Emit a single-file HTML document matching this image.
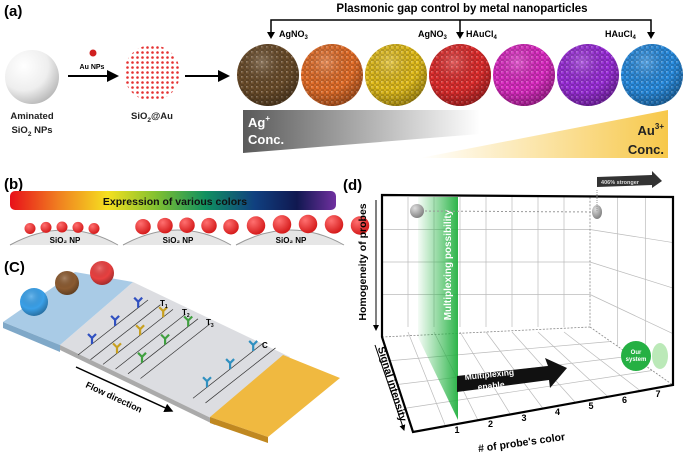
<!DOCTYPE html>
<html><head><meta charset="utf-8"><style>
html,body{margin:0;padding:0;background:#fff;}
svg{display:block;font-family:"Liberation Sans",Arial,sans-serif;}
.b{font-weight:bold;}
</style></head><body>
<svg id="fig" width="685" height="465" viewBox="0 0 685 465" xmlns="http://www.w3.org/2000/svg">
<defs>
<radialGradient id="white" cx="0.35" cy="0.3" r="0.75"><stop offset="0" stop-color="#fff"/><stop offset="0.6" stop-color="#eee"/><stop offset="1" stop-color="#b8b8b8"/></radialGradient>
<radialGradient id="shade" cx="0.4" cy="0.3" r="0.8"><stop offset="0" stop-color="#fff" stop-opacity="0.25"/><stop offset="0.55" stop-color="#000" stop-opacity="0"/><stop offset="1" stop-color="#000" stop-opacity="0.4"/></radialGradient>
<pattern id="bumps" width="5" height="5" patternUnits="userSpaceOnUse"><circle cx="2.5" cy="2.5" r="2.2" fill="none" stroke="#000" stroke-opacity="0.22" stroke-width="0.8"/><circle cx="1.8" cy="1.8" r="0.8" fill="#fff" fill-opacity="0.35"/></pattern>
<pattern id="reddots" width="5" height="5" patternUnits="userSpaceOnUse"><circle cx="2.5" cy="2.5" r="1.3" fill="#e53030"/></pattern>
<linearGradient id="gray" x1="0" x2="1"><stop offset="0" stop-color="#5a5a5a"/><stop offset="1" stop-color="#fff"/></linearGradient>
<linearGradient id="gold" x1="0" x2="1"><stop offset="0" stop-color="#fff"/><stop offset="1" stop-color="#f7c84a"/></linearGradient>
<linearGradient id="rainbow" x1="0" x2="1"><stop offset="0" stop-color="#e8101a"/><stop offset="0.15" stop-color="#f08020"/><stop offset="0.3" stop-color="#f5e020"/><stop offset="0.45" stop-color="#80c030"/><stop offset="0.6" stop-color="#109060"/><stop offset="0.75" stop-color="#104080"/><stop offset="0.88" stop-color="#101850"/><stop offset="1" stop-color="#7030a0"/></linearGradient>
<linearGradient id="greenplane" x1="0" x2="1"><stop offset="0" stop-color="#2db84a" stop-opacity="0.05"/><stop offset="1" stop-color="#22b040" stop-opacity="0.95"/></linearGradient>
<radialGradient id="redball" cx="0.35" cy="0.3" r="0.8"><stop offset="0" stop-color="#ff7070"/><stop offset="1" stop-color="#d01010"/></radialGradient>
<radialGradient id="grayball" cx="0.35" cy="0.3" r="0.8"><stop offset="0" stop-color="#ddd"/><stop offset="1" stop-color="#777"/></radialGradient>
<marker id="ah" markerWidth="6" markerHeight="6" refX="5" refY="3" orient="auto"><path d="M0,0 L6,3 L0,6 z" fill="#000"/></marker>
</defs>

<!-- Panel a -->
<g>
<text x="4" y="16" class="b" font-size="15">(a)</text>
<circle cx="32" cy="77" r="27" fill="url(#white)"/>
<text x="32" y="119" text-anchor="middle" class="b" font-size="9.5" fill="#222">Aminated</text>
<text x="32" y="133" text-anchor="middle" class="b" font-size="9.5" fill="#222">SiO<tspan font-size="6.5" dy="3">2</tspan><tspan dy="-3"> NPs</tspan></text>
<circle cx="93" cy="53" r="3.5" fill="#d02020"/>
<text x="92" y="69" text-anchor="middle" class="b" font-size="7">Au NPs</text>
<line x1="68" y1="76" x2="117" y2="76" stroke="#000" stroke-width="2" marker-end="url(#ah)"/>
<circle cx="152" cy="73" r="28" fill="#fff"/>
<circle cx="152" cy="73" r="28" fill="url(#reddots)"/>
<text x="152" y="119" text-anchor="middle" class="b" font-size="9.5" fill="#222">SiO<tspan font-size="6.5" dy="3">2</tspan><tspan dy="-3">@Au</tspan></text>
<line x1="185" y1="76" x2="228" y2="76" stroke="#000" stroke-width="2" marker-end="url(#ah)"/>
<g id="spheres"></g>
<text x="462" y="12" text-anchor="middle" class="b" font-size="11.5">Plasmonic gap control by metal nanoparticles</text>
<path d="M271,33 V20 H651 V33 M460,20 V33" fill="none" stroke="#000" stroke-width="1.5"/>
<path d="M267,32 l4,7 l4,-7z M456,32 l4,7 l4,-7z M647,32 l4,7 l4,-7z" fill="#000"/>
<text x="279" y="37" class="b" font-size="9">AgNO<tspan font-size="6" dy="2">3</tspan></text>
<text x="418" y="37" class="b" font-size="9">AgNO<tspan font-size="6" dy="2">3</tspan></text>
<text x="466" y="37" class="b" font-size="9">HAuCl<tspan font-size="6" dy="2">4</tspan></text>
<text x="605" y="37" class="b" font-size="9">HAuCl<tspan font-size="6" dy="2">4</tspan></text>
<polygon points="243,110 480,110 480,134 243,153" fill="url(#gray)"/>
<polygon points="420,158 668,110 668,158" fill="url(#gold)"/>
<text x="248" y="127" class="b" font-size="13" fill="#fff">Ag<tspan font-size="8" dy="-6">+</tspan></text>
<text x="248" y="144" class="b" font-size="13" fill="#fff">Conc.</text>
<text x="664" y="135" text-anchor="end" class="b" font-size="13" fill="#222">Au<tspan font-size="8" dy="-6">3+</tspan></text>
<text x="664" y="154" text-anchor="end" class="b" font-size="13" fill="#222">Conc.</text>
</g>

<!-- Panel b -->
<g>
<text x="4" y="189" class="b" font-size="15">(b)</text>
<rect x="10" y="191" width="326" height="19" rx="5" fill="url(#rainbow)"/>
<text x="175" y="205" text-anchor="middle" class="b" font-size="10.5" fill="#111">Expression of various colors</text>
<g id="bgroups"></g>
</g>

<!-- Panel c -->
<g>
<text x="4" y="272" class="b" font-size="15">(C)</text>
<polygon points="60,345 133,282 290,357 215,420" fill="#dcdde1"/>
<polygon points="60,345 215,420 215,425 60,350" fill="#aaa"/>
<polygon points="3,322 75,272 133,282 60,345" fill="#a9cbe6"/>
<polygon points="3,322 60,345 60,352 3,328" fill="#7fa8c8"/>
<polygon points="210,417 283,355 340,378 268,437" fill="#f0b940"/>
<polygon points="210,417 268,437 268,443 210,423" fill="#c08820"/>
<g id="stripLines"></g>
<circle cx="34" cy="302" r="14" fill="#3aa0e8"/>
<circle cx="34" cy="302" r="14" fill="url(#shade)"/>
<circle cx="67" cy="283" r="12" fill="#8a5a30"/>
<circle cx="67" cy="283" r="12" fill="url(#shade)"/>
<circle cx="102" cy="273" r="12" fill="#e84040"/>
<circle cx="102" cy="273" r="12" fill="url(#shade)"/>
<text x="160" y="306" class="b" font-size="8">T<tspan font-size="5" dy="2">1</tspan></text>
<text x="182" y="315" class="b" font-size="8">T<tspan font-size="5" dy="2">2</tspan></text>
<text x="206" y="325" class="b" font-size="8">T<tspan font-size="5" dy="2">3</tspan></text>
<text x="262" y="348" class="b" font-size="8">C</text>
<line x1="76" y1="367" x2="172" y2="411" stroke="#000" stroke-width="1.5" marker-end="url(#ah)"/>
<text x="85" y="387" class="b" font-size="9" transform="rotate(25 85 387)">Flow direction</text>
</g>

<!-- Panel d -->
<g>
<text x="343" y="190" class="b" font-size="15">(d)</text>
<g id="grid" stroke="#bbb" stroke-width="0.7" fill="none"></g>
<path d="M382,337 L590,327 L590,197 M590,327 L673,385" fill="none" stroke="#888" stroke-width="0.8" stroke-dasharray="2,1.5"/>
<path d="M382,195 L673,197 L673,385 L413,432 L382,337 Z" fill="none" stroke="#000" stroke-width="2.2"/>
<polygon points="418,197 458,197 458,420 418,337" fill="url(#greenplane)"/>
<text x="451" y="265" text-anchor="middle" class="b" font-size="10" fill="#fff" transform="rotate(-90 451 265)">Multiplexing possibility</text>
<line x1="417" y1="211" x2="597" y2="212" stroke="#999" stroke-dasharray="2,2"/>
<circle cx="417" cy="211" r="7" fill="url(#grayball)"/>
<ellipse cx="597" cy="212" rx="5" ry="7" fill="url(#grayball)"/>
<line x1="597" y1="190" x2="597" y2="212" stroke="#999" stroke-dasharray="1,1"/>
<polygon points="597,177 652,175 652,171 662,181 652,188 652,185 597,187" fill="#333"/>
<text x="620" y="184" text-anchor="middle" font-size="5.5" class="b" fill="#ddd">406% stronger</text>
<polygon points="457,376 548,366 545,358 567,368 550,388 549,380 457,392" fill="#111"/>
<text x="465" y="380" class="b" font-size="8.5" fill="#fff" transform="rotate(-6 465 380)">Multiplexing</text>
<text x="478" y="390" class="b" font-size="8.5" fill="#fff" transform="rotate(-6 478 390)">enable</text>
<ellipse cx="660" cy="356" rx="8" ry="13" fill="#9ee09a" opacity="0.7"/>
<circle cx="636" cy="356" r="15" fill="#25b043"/>
<text x="636" y="354" text-anchor="middle" class="b" font-size="6" fill="#fff">Our</text>
<text x="636" y="361" text-anchor="middle" class="b" font-size="6" fill="#fff">system</text>
<g id="ticks"></g>
<text x="522" y="446" text-anchor="middle" class="b" font-size="10.5" transform="rotate(-8 522 446)"># of probe's color</text>
<text x="366" y="262" text-anchor="middle" class="b" font-size="10.5" transform="rotate(-90 366 262)">Homogeneity of probes</text>
<line x1="376" y1="200" x2="376" y2="330" stroke="#000" stroke-width="1" marker-end="url(#ah)"/>
<text x="389" y="385" text-anchor="middle" class="b" font-size="10.5" transform="rotate(73 389 385)">Signal intensity</text>
<line x1="375" y1="345" x2="404" y2="430" stroke="#000" stroke-width="1" marker-end="url(#ah)"/>
</g>

<script>
const NS="http://www.w3.org/2000/svg";
const sphereColors=["#6e4f2c","#e8702a","#e6c01c","#e42e2e","#e02cc6","#9e2fde","#2a8fe4"];
const sphereNames=["brown","orange","yellow","red","magenta","purple","blue"];
const xTickLabels=["1","2","3","4","5","6","7"];
const npSizes=[6,9,11];
function mk(tag,attrs,parent){const e=document.createElementNS(NS,tag);for(const k in attrs)e.setAttribute(k,attrs[k]);parent.appendChild(e);return e;}
// spheres
const sg=document.getElementById('spheres');
sphereColors.forEach((c,i)=>{
  const cx=268+i*64, cy=75;
  let e=mk('ellipse',{cx,cy,rx:31,ry:31,fill:c},sg);
  
  
  e=mk('ellipse',{cx,cy,rx:31,ry:31,fill:'url(#bumps)'},sg);
  
  
  e=mk('ellipse',{cx,cy,rx:31,ry:31,fill:'url(#shade)'},sg);
  
  
});
// panel b groups
const bg=document.getElementById('bgroups');
npSizes.forEach((r,g)=>{
  const x0=10+g*113;
  let e=mk('path',{d:`M${x0},245 Q${x0+55},215 ${x0+108},245`,fill:'#e6e6e6',stroke:'#999','stroke-width':1},bg);
  
  
  for(let k=0;k<5;k++){
    const px=x0+20+k*(r*2+4), py=230-Math.sin((k+1)/6*Math.PI)*3-(r-6)*0.6;
    e=mk('circle',{cx:px,cy:py,r:r*0.75+1,fill:'url(#redball)'},bg);
    
    
  }
  e=mk('text',{x:x0+55,y:243,'text-anchor':'middle','font-size':8,'font-weight':'bold'},bg);
  e.textContent='SiO₂ NP';
  
  
});
// strip lines & antibodies
const sl=document.getElementById('stripLines');
const lineCols=["#3050c0","#3050c0","#c8a020","#c8a020","#40a040","#40a040","#3090c0","#3090c0"];
const lineOff=[0,10,20,30,40,50,92,102];
lineOff.forEach((o,i)=>{
  const x1=78+o*1.25,y1=355+o*0.47,x2=148+o*1.25,y2=300+o*0.47;
  let e=mk('line',{x1,y1,x2,y2,stroke:'#333','stroke-width':0.7},sl);
  
  
  if(i%2==0){
    for(let t=0;t<3;t++){
      const ax=x1+(x2-x1)*(0.2+t*0.33), ay=y1+(y2-y1)*(0.2+t*0.33)-6;
      e=mk('path',{d:`M${ax},${ay+6} V${ay} L${ax-4},${ay-4} M${ax},${ay} L${ax+4},${ay-4}`,stroke:lineCols[i],'stroke-width':2.2,fill:'none'},sl);
      
      
    }
  }
});
// grid in panel d
const gr=document.getElementById('grid');
function gl(x1,y1,x2,y2){const e=mk('line',{x1,y1,x2,y2},gr);}
for(let i=1;i<8;i++){const x=382+i*(590-382)/8;gl(x,197,x,327);}
for(let j=1;j<4;j++){const y=197+j*(130/4);gl(382,y,590,y);gl(590,y,673,y+j*58/4*0.9);}
for(let i=1;i<3;i++){const x=590+i*83/3;gl(x,197,x,327+58*i/3);}
for(let i=1;i<8;i++){gl(382+i*26,332,413+i*(260/8),432-i*47/8);}
for(let j=1;j<4;j++){const t=j/4;gl(382+31*t,337+95*t,590+83*t,327+58*t);}
// ticks
const tg=document.getElementById('ticks');
xTickLabels.forEach((lab,i)=>{
  const x=457+i*33.5, y=433-i*6;
  const e=mk('text',{x,y,'text-anchor':'middle','font-size':9,'font-weight':'bold'},tg);
  e.textContent=lab;
  
  
});
</script>
</svg>
</body></html>
